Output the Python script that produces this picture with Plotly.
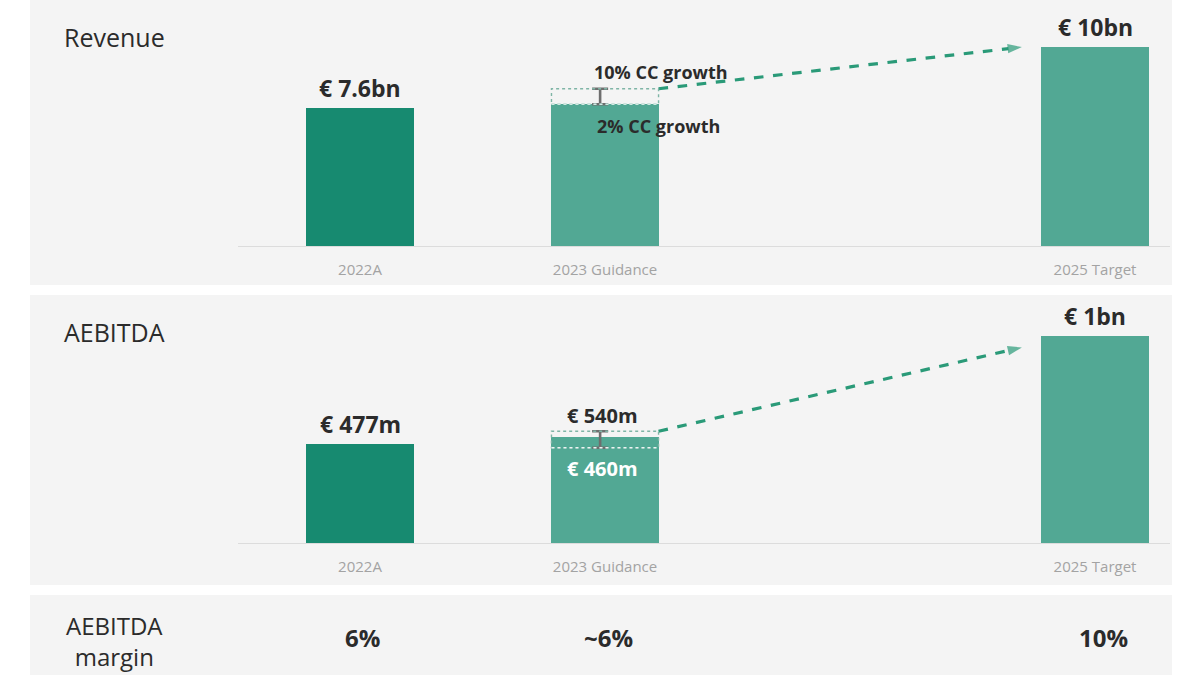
import plotly.graph_objects as go

# ---------------- data ----------------
categories = ["2022A", "2023 Guidance", "2025 Target"]
cat_pos = [0, 1, 3]

revenue_bar = [7.6, 7.75, 10.0]          # bn EUR (2023 solid = 2% CC growth)
revenue_2023_low = 7.75                   # 2% CC growth
revenue_2023_high = 8.36                  # 10% CC growth
revenue_labels = ["€ 7.6bn", "", "€ 10bn"]

aebitda_bar = [477, 510, 1000]            # m EUR
aebitda_2023_low = 460
aebitda_2023_high = 540
aebitda_labels = ["€ 477m", "", "€ 1bn"]

margin_labels = ["6%", "~6%", "10%"]

# ---------------- style ----------------
DARK = "#178a70"
LIGHT = "#52a894"
ARROW = "#2a9a78"
PANEL = "#f4f4f4"
TXT = "#2b2b2b"
FONT = "Open Sans"
W, H = 1200, 675
BW = 0.437
HW = BW / 2

def py(pix):
    return 1 - pix / H

fig = go.Figure()

colors = [DARK, LIGHT, LIGHT]

fig.add_trace(go.Bar(x=cat_pos, y=revenue_bar, width=BW, marker=dict(color=colors, line=dict(width=0)),
                     xaxis="x", yaxis="y", showlegend=False, hoverinfo="skip"))
fig.add_trace(go.Bar(x=cat_pos, y=aebitda_bar, width=BW, marker=dict(color=colors, line=dict(width=0)),
                     xaxis="x2", yaxis="y2", showlegend=False, hoverinfo="skip"))

# Error "I" markers for 2023 ranges
for (lo, hi, xa, ya) in [(revenue_2023_low, revenue_2023_high, "x", "y"),
                         (aebitda_2023_low, aebitda_2023_high, "x2", "y2")]:
    fig.add_trace(go.Scatter(x=[cat_pos[1] - 0.02], y=[hi], mode="markers",
                             marker=dict(size=1, color="rgba(0,0,0,0)"),
                             error_y=dict(type="data", symmetric=False, array=[0], arrayminus=[hi - lo],
                                          color="#6e6e6e", thickness=2.6, width=8),
                             xaxis=xa, yaxis=ya, showlegend=False, hoverinfo="skip"))

# Dashed arrows
for (y0, y1, xa, ya) in [(revenue_2023_high, revenue_bar[2], "x", "y"),
                         (aebitda_2023_high, aebitda_bar[2] - 55, "x2", "y2")]:
    fig.add_trace(go.Scatter(x=[cat_pos[1] + HW, cat_pos[2] - HW - 0.08], y=[y0, y1],
                             mode="lines+markers",
                             line=dict(color=ARROW, width=3.2, dash="dash"),
                             marker=dict(symbol=["circle", "arrow"], size=[0, 15], color=ARROW,
                                         angleref="previous", line=dict(width=0)),
                             xaxis=xa, yaxis=ya, showlegend=False, hoverinfo="skip", cliponaxis=False))

shapes = []
for (t, b) in [(0, 285), (295, 585), (595, 675)]:
    shapes.append(dict(type="rect", xref="paper", yref="paper", x0=30 / W, x1=1172 / W,
                       y0=py(b), y1=py(t), fillcolor=PANEL, line=dict(width=0), layer="below"))

for (lo, hi, xa, ya) in [(revenue_2023_low, revenue_2023_high, "x", "y"),
                         (aebitda_2023_low, aebitda_2023_high, "x2", "y2")]:
    shapes.append(dict(type="rect", xref=xa, yref=ya, x0=cat_pos[1] - HW, x1=cat_pos[1] + HW,
                       y0=lo, y1=hi, line=dict(color="#7fb5a6", width=1.4, dash="dot"),
                       fillcolor="rgba(0,0,0,0)", layer="above"))
shapes.append(dict(type="line", xref="x2", yref="y2", x0=cat_pos[1] - HW, x1=cat_pos[1] + HW,
                   y0=aebitda_2023_low, y1=aebitda_2023_low,
                   line=dict(color="rgba(255,255,255,0.85)", width=1.4, dash="dot")))
shapes.append(dict(type="line", xref="x", yref="y", x0=cat_pos[1] - HW, x1=cat_pos[1] + HW,
                   y0=revenue_2023_low, y1=revenue_2023_low,
                   line=dict(color="rgba(220,240,235,0.9)", width=1.4, dash="dot")))

annotations = []
annotations.append(dict(text="Revenue", xref="paper", yref="paper", x=62 / W, y=py(37),
                        xanchor="left", yanchor="middle", showarrow=False,
                        font=dict(family=FONT, size=25, color=TXT)))
annotations.append(dict(text="AEBITDA", xref="paper", yref="paper", x=62 / W, y=py(332),
                        xanchor="left", yanchor="middle", showarrow=False,
                        font=dict(family=FONT, size=25, color=TXT)))
annotations.append(dict(text="AEBITDA<br>margin", xref="paper", yref="paper", x=114 / W, y=py(641),
                        xanchor="center", yanchor="middle", showarrow=False, align="center",
                        font=dict(family=FONT, size=24, color=TXT)))

for xp, v, lab in zip(cat_pos, revenue_bar, revenue_labels):
    if lab:
        annotations.append(dict(text=f"<b>{lab}</b>", xref="x", yref="y", x=xp, y=v, yanchor="bottom",
                                yshift=2, showarrow=False, font=dict(family=FONT, size=23, color=TXT)))
for xp, v, lab in zip(cat_pos, aebitda_bar, aebitda_labels):
    if lab:
        annotations.append(dict(text=f"<b>{lab}</b>", xref="x2", yref="y2", x=xp, y=v, yanchor="bottom",
                                yshift=2, showarrow=False, font=dict(family=FONT, size=23, color=TXT)))

annotations.append(dict(text="<b>10% CC growth</b>", xref="x", yref="y", x=cat_pos[1] + 0.23,
                        y=revenue_2023_high, yanchor="bottom", yshift=3, showarrow=False,
                        font=dict(family=FONT, size=18, color=TXT)))
annotations.append(dict(text="<b>2% CC growth</b>", xref="x", yref="y", x=cat_pos[1] + 0.22,
                        y=revenue_2023_low, yanchor="top", yshift=-8, showarrow=False,
                        font=dict(family=FONT, size=18, color=TXT)))
annotations.append(dict(text=f"<b>€ {aebitda_2023_high}m</b>", xref="x2", yref="y2", x=cat_pos[1] - 0.01,
                        y=aebitda_2023_high, yanchor="bottom", yshift=0, showarrow=False,
                        font=dict(family=FONT, size=20, color=TXT)))
annotations.append(dict(text=f"<b>€ {aebitda_2023_low}m</b>", xref="x2", yref="y2", x=cat_pos[1] - 0.01,
                        y=aebitda_2023_low, yanchor="top", yshift=-5, showarrow=False,
                        font=dict(family=FONT, size=20, color="white")))

for xp, lab, xs in zip(cat_pos, margin_labels, [2, 3, 8]):
    annotations.append(dict(text=f"<b>{lab}</b>", xref="x2", yref="paper", x=xp, y=py(637),
                            yanchor="middle", xshift=xs, showarrow=False,
                            font=dict(family=FONT, size=24, color=TXT)))

xr = [-0.498, 3.306]
xaxis_common = dict(range=xr, tickvals=cat_pos, ticktext=categories, showgrid=False, zeroline=False,
                    showline=True, linecolor="#dcdcdc", linewidth=1, ticks="",
                    tickfont=dict(family=FONT, size=15, color="#a3a3a3"), ticklabelstandoff=10,
                    fixedrange=True)

fig.update_layout(
    width=W, height=H, margin=dict(l=0, r=0, t=0, b=0),
    paper_bgcolor="white", plot_bgcolor="rgba(0,0,0,0)",
    bargap=0, barmode="overlay",
    xaxis=dict(domain=[238 / W, 1170 / W], anchor="y", **xaxis_common),
    yaxis=dict(domain=[py(246), py(10)], range=[2.17, 11.46], visible=False, fixedrange=True),
    xaxis2=dict(domain=[238 / W, 1170 / W], anchor="y2", **xaxis_common),
    yaxis2=dict(domain=[py(543), py(305)], range=[0, 1150], visible=False, fixedrange=True),
    shapes=shapes, annotations=annotations, showlegend=False,
)

fig.write_html("out.html", config={"displayModeBar": False})
